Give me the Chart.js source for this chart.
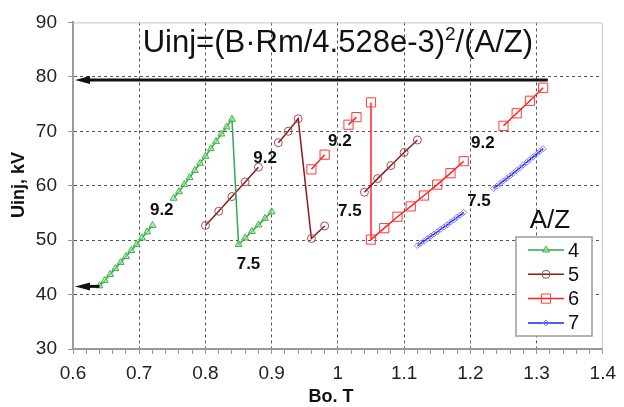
<!DOCTYPE html>
<html>
<head>
<meta charset="utf-8">
<script src="https://cdn.jsdelivr.net/npm/chart.js@4.4.1/dist/chart.umd.min.js"></script>
<style>
  html, body { margin: 0; padding: 0; background: #fff; }
  #wrap { width: 624px; height: 407px; position: relative; }
</style>
</head>
<body>
<div id="wrap"><canvas id="chart"></canvas></div>
<script>
// Bo (T) and Uinj (kV) per A/Z; null breaks the line
const b4 = [0.64, 0.648, 0.656, 0.664, 0.672, 0.68, 0.688, 0.696, 0.704, 0.712, 0.72, null,
  0.752, 0.76, 0.768, 0.776, 0.784, 0.792, 0.80, 0.808, 0.816, 0.824, 0.832, 0.84,
  0.85, 0.86, 0.87, 0.88, 0.89, 0.90];
const u4 = [41.6, 42.6, 43.7, 44.8, 45.9, 47.0, 48.1, 49.2, 50.4, 51.5, 52.7, null,
  57.7, 58.9, 60.2, 61.5, 62.8, 64.1, 65.4, 66.8, 68.1, 69.5, 70.8, 72.2,
  49.2, 50.4, 51.6, 52.8, 54.0, 55.2];

const b5 = [0.80, 0.82, 0.84, 0.86, 0.88, null, 0.91, 0.925, 0.94, 0.96, 0.98, null,
  1.04, 1.06, 1.08, 1.10, 1.12];
const u5 = [52.7, 55.3, 58.0, 60.7, 63.4, null, 67.9, 70.0, 72.3, 50.3, 52.6, null,
  58.8, 61.3, 63.7, 66.1, 68.4];

const b6 = [0.96, 0.98, null, 1.016, 1.028, null, 1.05, 1.05, 1.07, 1.09, 1.11, 1.13, 1.15, 1.17, 1.19, null,
  1.25, 1.27, 1.29, 1.31];
const u6 = [63.0, 65.7, null, 71.2, 72.6, null, 75.3, 50.1, 52.2, 54.3, 56.2, 58.2, 60.2, 62.3, 64.5, null,
  71.0, 73.3, 75.6, 78.0];

const b7 = [1.12, 1.125, 1.13, 1.135, 1.14, 1.145, 1.15, 1.155, 1.16, 1.165, 1.17, 1.175, 1.18, 1.185, 1.19, null,
  1.235, 1.24, 1.245, 1.25, 1.255, 1.26, 1.265, 1.27, 1.275, 1.28, 1.285, 1.29, 1.295, 1.30, 1.305, 1.31];
const u7 = [49.0, 49.4, 49.8, 50.3, 50.7, 51.1, 51.5, 52.0, 52.4, 52.8, 53.3, 53.7, 54.2, 54.6, 55.1, null,
  59.5, 59.9, 60.4, 60.9, 61.3, 61.8, 62.3, 62.8, 63.3, 63.8, 64.3, 64.8, 65.3, 65.8, 66.3, 66.8];

const azNames = ['4', '5', '6', '7'];

// Rm labels on the plot
const noteText = ['9.2', '9.2', '9.2', '9.2', '7.5', '7.5', '7.5'];
const noteB = [0.734, 0.890, 1.003, 1.219, 0.865, 1.018, 1.213];
const noteU = [55.4, 65.1, 68.2, 67.8, 45.6, 55.3, 57.1];

// black arrows
const arrowFromB = [1.317, 0.64];
const arrowToB = [0.603, 0.603];
const arrowU = [79.4, 41.5];

const FONT = '"Liberation Sans", Arial, sans-serif';

function pts(bs, us) {
  return bs.map((b, i) => ({ x: b, y: us[i] }));
}

const isMajor = v => Math.abs(v * 10 - Math.round(v * 10)) < 1e-6;

const overlay = {
  id: 'overlay',
  afterDraw(chart) {
    const { ctx, chartArea: area } = chart;
    const x = chart.scales.x, y = chart.scales.y;
    ctx.save();

    // light frame top/right
    ctx.strokeStyle = '#c4c4c4';
    ctx.lineWidth = 1;
    ctx.beginPath();
    ctx.moveTo(area.left, area.top + 0.5);
    ctx.lineTo(area.right - 0.5, area.top + 0.5);
    ctx.lineTo(area.right - 0.5, area.bottom);
    ctx.stroke();

    // arrows
    arrowU.forEach((u, i) => {
      const py = y.getPixelForValue(u);
      const x0 = x.getPixelForValue(arrowFromB[i]);
      const x1 = x.getPixelForValue(arrowToB[i]);
      ctx.strokeStyle = '#111';
      ctx.lineWidth = 3;
      ctx.beginPath();
      ctx.moveTo(x0, py);
      ctx.lineTo(x1 + 10, py);
      ctx.stroke();
      ctx.fillStyle = '#111';
      ctx.beginPath();
      ctx.moveTo(x1, py);
      ctx.lineTo(x1 + 15, py - 4);
      ctx.lineTo(x1 + 15, py + 4);
      ctx.closePath();
      ctx.fill();
    });

    // Rm notes
    ctx.fillStyle = '#111';
    ctx.font = 'bold 17px ' + FONT;
    ctx.textAlign = 'center';
    ctx.textBaseline = 'middle';
    noteText.forEach((t, i) => {
      ctx.fillText(t, x.getPixelForValue(noteB[i]), y.getPixelForValue(noteU[i]));
    });

    // formula
    const mainTxt = 'Uinj=(B\u00B7Rm/4.528e-3)';
    const supTxt = '2';
    const tailTxt = '/(A/Z)';
    const bigF = '31px ' + FONT, supF = '19px ' + FONT;
    ctx.font = bigF;
    const w1 = ctx.measureText(mainTxt).width;
    const w3 = ctx.measureText(tailTxt).width;
    ctx.font = supF;
    const w2 = ctx.measureText(supTxt).width;
    let tx = (area.left + area.right) / 2 - (w1 + w2 + w3) / 2;
    const base = 52;
    ctx.textAlign = 'left';
    ctx.textBaseline = 'alphabetic';
    ctx.font = bigF;
    ctx.fillText(mainTxt, tx, base);
    tx += w1;
    ctx.font = supF;
    ctx.fillText(supTxt, tx, base - 12);
    tx += w2;
    ctx.font = bigF;
    ctx.fillText(tailTxt, tx, base);

    // axis titles
    ctx.font = 'bold 18px ' + FONT;
    ctx.textAlign = 'center';
    ctx.textBaseline = 'middle';
    ctx.fillText('Bo. T', 331, 397);
    ctx.save();
    ctx.translate(19, 185);
    ctx.rotate(-Math.PI / 2);
    ctx.fillText('Uinj, kV', 0, 0);
    ctx.restore();

    // legend
    const lx = 516, ly = 237, lw = 76, lh = 99;
    ctx.fillStyle = '#fff';
    ctx.fillRect(lx, ly, lw, lh);
    ctx.strokeStyle = '#9a9a9a';
    ctx.lineWidth = 1.5;
    ctx.strokeRect(lx, ly, lw, lh);
    ctx.fillStyle = '#111';
    ctx.font = '26px ' + FONT;
    ctx.textBaseline = 'alphabetic';
    ctx.fillText('A/Z', 550, 228);

    const drawPt = Chart.helpers && Chart.helpers.drawPoint;
    chart.data.datasets.forEach((ds, i) => {
      const yy = 250 + i * 24.3;
      ctx.strokeStyle = ds.borderColor;
      ctx.lineWidth = ds.borderWidth;
      ctx.beginPath();
      ctx.moveTo(528, yy);
      ctx.lineTo(564, yy);
      ctx.stroke();
      if (drawPt) {
        ctx.fillStyle = ds.pointBackgroundColor;
        ctx.strokeStyle = ds.pointBorderColor;
        ctx.lineWidth = ds.pointBorderWidth;
        drawPt(ctx, { pointStyle: ds.pointStyle, radius: ds.pointRadius, borderWidth: ds.pointBorderWidth, rotation: 0 }, 546, yy);
      }
      ctx.fillStyle = '#111';
      ctx.font = '20px ' + FONT;
      ctx.textAlign = 'left';
      ctx.textBaseline = 'middle';
      ctx.fillText(ds.label, 568, yy + 1);
      ctx.textAlign = 'center';
    });

    ctx.restore();
  }
};

new Chart(document.getElementById('chart'), {
  type: 'line',
  data: {
    datasets: [
      {
        label: azNames[0], data: pts(b4, u4),
        borderColor: '#33a852', borderWidth: 1.5,
        pointStyle: 'triangle', pointRadius: 4, pointBorderWidth: 1,
        pointBorderColor: '#3cb548', pointBackgroundColor: 'rgba(160,230,150,0.6)'
      },
      {
        label: azNames[1], data: pts(b5, u5),
        borderColor: '#8b1a1a', borderWidth: 1.5,
        pointStyle: 'circle', pointRadius: 4, pointBorderWidth: 1,
        pointBorderColor: '#a84a4a', pointBackgroundColor: 'rgba(255,255,255,0)'
      },
      {
        label: azNames[2], data: pts(b6, u6),
        borderColor: '#ff2020', borderWidth: 1.5,
        pointStyle: 'rect', pointRadius: 6.5, pointBorderWidth: 1,
        pointBorderColor: '#ff3a3a', pointBackgroundColor: 'rgba(255,255,255,0)'
      },
      {
        label: azNames[3], data: pts(b7, u7),
        borderColor: '#1f1fff', borderWidth: 1.5,
        pointStyle: 'rectRot', pointRadius: 3, pointBorderWidth: 1,
        pointBorderColor: '#7d7dff', pointBackgroundColor: 'rgba(255,255,255,0)'
      }
    ]
  },
  options: {
    responsive: true,
    maintainAspectRatio: false,
    animation: false,
    spanGaps: false,
    elements: { line: { tension: 0 } },
    layout: { padding: { top: 19, right: 13, left: 0, bottom: 0 } },
    plugins: { legend: { display: false }, tooltip: { enabled: false } },
    scales: {
      x: {
        type: 'linear', min: 0.6, max: 1.4,
        afterFit: s => { s.height = 58; },
        ticks: {
          stepSize: 0.02, autoSkip: false, maxRotation: 0, minRotation: 0,
          padding: 8, color: '#222', font: { family: FONT, size: 19 },
          callback: v => isMajor(v) ? String(Math.round(v * 10) / 10) : ''
        },
        grid: {
          color: c => (c.tick && isMajor(c.tick.value) && c.tick.value > 0.61 && c.tick.value < 1.39) ? '#555' : 'rgba(0,0,0,0)',
          tickColor: '#999', tickLength: 5, lineWidth: 1
        },
        border: { color: '#999', width: 2, dash: [3, 3] }
      },
      y: {
        min: 30, max: 90,
        afterFit: s => { s.width = 73; },
        ticks: {
          stepSize: 10, padding: 11, color: '#222', font: { family: FONT, size: 19 }
        },
        grid: {
          color: c => (c.tick && c.tick.value > 30 && c.tick.value < 90) ? '#555' : 'rgba(0,0,0,0)',
          tickColor: '#999', tickLength: 5, lineWidth: 1
        },
        border: { color: '#999', width: 2, dash: [3, 3] }
      }
    }
  },
  plugins: [overlay]
});
</script>
</body>
</html>
